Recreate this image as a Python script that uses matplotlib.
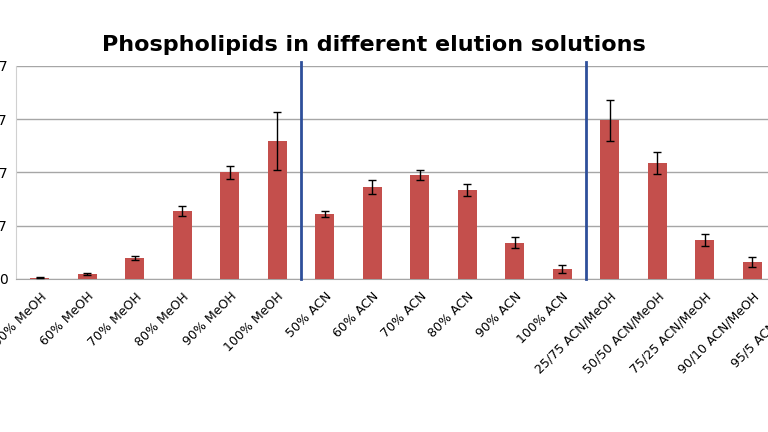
import matplotlib
matplotlib.use("Agg")
import matplotlib.pyplot as plt
import numpy as np
from matplotlib.ticker import FuncFormatter


# =====================================
# Data (phospholipid signal, x 1E+07)
# =====================================

labels = [
    "50% MeOH", "60% MeOH", "70% MeOH", "80% MeOH", "90% MeOH", "100% MeOH",
    "50% ACN", "60% ACN", "70% ACN", "80% ACN", "90% ACN", "100% ACN",
    "25/75 ACN/MeOH", "50/50 ACN/MeOH", "75/25 ACN/MeOH", "90/10 ACN/MeOH",
    "95/5 ACN/MeOH",
]

values = [
    0.02, 0.09, 0.40, 1.28, 2.00, 2.59,
    1.22, 1.73, 1.95, 1.67, 0.68, 0.19,
    2.98, 2.18, 0.73, 0.32, 0.20,
]

errors = [
    0.01, 0.02, 0.04, 0.10, 0.12, 0.55,
    0.05, 0.13, 0.09, 0.11, 0.10, 0.08,
    0.39, 0.20, 0.11, 0.09, 0.05,
]

separators = [5.5, 11.5]
y_ticks = [0, 1, 2, 3, 4]


# =====================================
# Create Chart
# =====================================

fig = plt.figure(figsize=(7.68, 4.32), dpi=100)

# plot area is wider than the canvas (cropped like the original)
ax = fig.add_axes([16 / 768, 153 / 432, 807.5 / 768, 213 / 432])

x = np.arange(len(labels))
scale = 1e7

ax.bar(
    x,
    np.array(values) * scale,
    width=0.4,
    color="#C44F4C",
    zorder=3,
)

ax.errorbar(
    x,
    np.array(values) * scale,
    yerr=np.array(errors) * scale,
    fmt="none",
    ecolor="black",
    elinewidth=1,
    capsize=3,
    capthick=1,
    zorder=4,
)

for sx in separators:
    ax.axvline(
        sx,
        ymin=0,
        ymax=1.02,
        color="#2E4F9A",
        linewidth=2,
        clip_on=False,
        zorder=5,
    )

ax.set_xlim(-0.5, len(labels) - 0.5)
ax.set_ylim(0, 4 * scale)
ax.set_yticks([t * scale for t in y_ticks])
ax.yaxis.set_major_formatter(
    FuncFormatter(lambda v, p: "0" if v == 0 else "%dE+07" % round(v / scale))
)

ax.yaxis.grid(True, color="#A6A6A6", linewidth=1, zorder=0)
ax.set_axisbelow(True)

ax.set_xticks(x)
ax.set_xticklabels(
    labels,
    rotation=45,
    ha="right",
    rotation_mode="anchor",
    fontsize=9,
)

ax.tick_params(axis="x", length=0, pad=8)
ax.tick_params(axis="y", length=0, pad=6, labelsize=10)

for side in ["top", "right"]:
    ax.spines[side].set_visible(False)
ax.spines["left"].set_color("#D0D0D0")
ax.spines["bottom"].set_color("#A6A6A6")


fig.text(
    374 / 768,
    1 - 45 / 432,
    "Phospholipids in different elution solutions",
    ha="center",
    va="center",
    fontsize=16,
    fontweight="bold",
)


# =====================================
# Save Image
# =====================================

fig.savefig("out.png", dpi=100)
plt.close(fig)
